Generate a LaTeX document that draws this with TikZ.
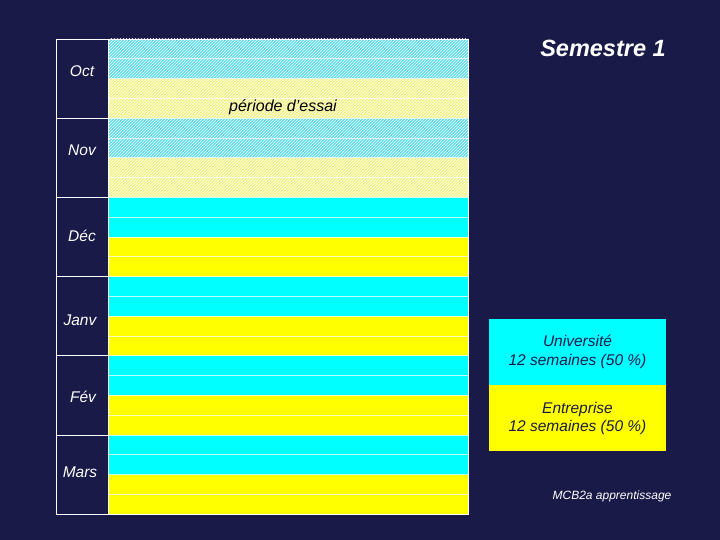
\documentclass[tikz,border=0pt]{standalone}
\usepackage{fontspec}
\setmainfont{Liberation Sans}
\usetikzlibrary{patterns}
\usetikzlibrary{positioning}
\definecolor{mnavy}{RGB}{26,26,72}
\definecolor{mcyan}{RGB}{0,255,255}
\definecolor{myellow}{RGB}{255,255,0}
\definecolor{hcyan}{RGB}{90,222,236}
\definecolor{hyellow}{RGB}{242,242,130}
\tikzset{month/.style = {text=white, font=\itshape\fontsize{15.5}{18}\selectfont},
         weekline/.style = {white, opacity=0.75, line width=0.7pt},
         legendbox/.style = {rectangle, minimum width=177pt, minimum height=66pt,
                             inner sep=0pt, align=center, text=mnavy,
                             font=\itshape\fontsize{15.5}{18.5}\selectfont}}

\begin{document}
\begin{tikzpicture}[x=1pt, y=-1pt]
      \fill [mnavy] (0, 0) rectangle (720, 540);

      % weeks: two at the university, two in the company
      \foreach \m in {0,...,5} {
        \pgfmathsetmacro\ya{39 + 79.2 * \m}
        \fill [mcyan] (109, \ya) rectangle ++(359, 39.6);
        \fill [myellow] (109, \ya + 39.6) rectangle ++(359, 39.6);
      }
      % trial period
      \foreach \m in {0,1} {
        \pgfmathsetmacro\ya{39 + 79.2 * \m}
        \fill [hcyan] (109, \ya) rectangle ++(359, 39.6);
        \fill [hyellow] (109, \ya + 39.6) rectangle ++(359, 39.6);
      }
      \fill [pattern=north east lines, pattern color=white] (109, 39) rectangle (468, 197.4);

      \foreach \k in {1,...,23} {
        \draw [weekline] (109, {39 + 19.8 * \k}) -- (468, {39 + 19.8 * \k});
      }
      \foreach \k in {1,...,5} {
        \draw [white, line width=0.8pt] (56, {39 + 79.2 * \k}) -- (108.5, {39 + 79.2 * \k});
      }
      \draw [white, line width=0.8pt] (108.5, 39) -- (108.5, 514);
      \draw [white, line width=0.8pt] (56, 39) rectangle (468, 514);

      \node [month] (oct) at (82, 71) {Oct};
      \node [month] (nov) at (82, 150) {Nov};
      \node [month] (dec) at (82, 236) {Déc};
      \node [month] (janv) at (80, 320) {Janv};
      \node [month] (fev) at (83, 397) {Fév};
      \node [month] (mars) at (80, 472) {Mars};

      \node [text=black, font=\itshape\fontsize{16}{18}\selectfont] (essai) at (283, 107) {période d'essai};

      \node [legendbox, fill=mcyan] (univ) at (577.5, 352) {Université\\12 semaines (50 \%)};
      \node [legendbox, fill=myellow, below=0pt of univ] (entr) {Entreprise\\12 semaines (50 \%)};

      \node [text=white, font=\bfseries\itshape\fontsize{23.5}{26}\selectfont] (sem) at (603, 48) {Semestre 1};
      \node [text=white, font=\itshape\fontsize{12}{14}\selectfont] (mcb) at (612, 496) {MCB2a apprentissage};
    \end{tikzpicture}
\end{document}
